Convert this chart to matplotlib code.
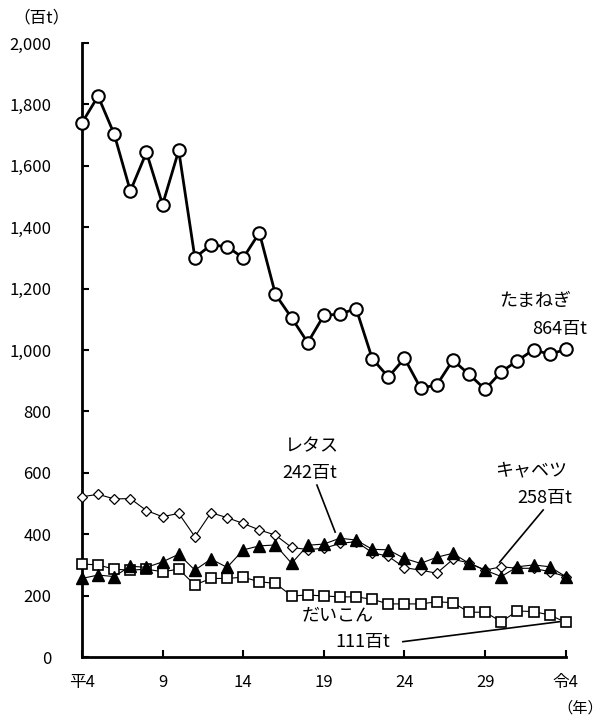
"""Vegetable shipment trend chart (平4 - 令4), unit 百t."""
import matplotlib
matplotlib.use("Agg")
import matplotlib.pyplot as plt
import numpy as np

plt.rcParams["font.family"] = ["Noto Sans CJK JP", "DejaVu Sans"]

# 平4 (1992) ... 令4 (2022): 31 years
years = list(range(31))
tick_pos = [0, 5, 10, 15, 20, 25, 30]
tick_labels = ["平4", "9", "14", "19", "24", "29", "令4"]

tamanegi = [1740, 1827, 1703, 1518, 1644, 1474, 1650, 1301, 1342, 1337,
            1300, 1382, 1181, 1105, 1024, 1113, 1117, 1135, 972, 912,
            973, 876, 886, 967, 921, 872, 929, 965, 1001, 986, 1002]
lettuce = [522, 530, 515, 516, 477, 457, 468, 392, 470, 454,
           435, 414, 397, 357, 350, 354, 370, 376, 340, 328,
           291, 283, 273, 318, 307, 283, 294, 289, 289, 278, 262]
cabbage = [256, 267, 262, 296, 292, 310, 335, 283, 319, 292,
           349, 362, 365, 305, 364, 368, 387, 381, 351, 349,
           321, 305, 325, 338, 305, 283, 262, 294, 300, 294, 262]
daikon = [303, 300, 286, 283, 286, 278, 286, 235, 256, 256,
          260, 245, 240, 199, 202, 199, 196, 196, 188, 173,
          173, 173, 180, 177, 146, 146, 115, 150, 148, 137, 113]

fig = plt.figure(figsize=(6.09, 7.22), dpi=100)
ax = fig.add_axes([0.1346, 0.090, 0.929 - 0.1346, 0.9404 - 0.090])

ax.plot(years, lettuce, color="black", lw=0.8, marker="D", ms=5.5,
        mfc="white", mec="black", mew=0.9, clip_on=False, zorder=3)
ax.plot(years, daikon, color="black", lw=0.8, marker="s", ms=7,
        mfc="white", mec="black", mew=1.2, clip_on=False, zorder=3)
ax.plot(years, cabbage, color="black", lw=0.8, marker="^", ms=8.5,
        mfc="black", mec="black", clip_on=False, zorder=4)
ax.plot(years, tamanegi, color="black", lw=2, marker="o", ms=9,
        mfc="white", mec="black", mew=1.5, clip_on=False, zorder=5)

ax.set_xlim(0, 30)
ax.set_ylim(0, 2000)
ax.set_yticks(np.arange(0, 2001, 200))
ax.set_yticklabels([f"{v:,}" for v in range(0, 2001, 200)])
ax.set_xticks(tick_pos)
ax.set_xticklabels(tick_labels)
ax.tick_params(axis="both", direction="in", length=5, width=1.5,
               labelsize=12, colors="black")
ax.tick_params(axis="y", pad=22)
ax.tick_params(axis="x", pad=12)
for side in ("top", "right"):
    ax.spines[side].set_visible(False)
for side in ("left", "bottom"):
    ax.spines[side].set_linewidth(2)

fig.text(0.068, 0.975, "（百t）", fontsize=12, ha="center", va="center")
fig.text(0.990, 0.020, "（年）", fontsize=11, ha="right", va="center")

# series labels
lab = dict(fontsize=13, ha="left", va="center")
ax.text(25.9, 1160, "たまねぎ", **lab)
ax.text(27.9, 1070, "864百t", **lab)
ax.text(12.6, 687, "レタス", **lab)
ax.text(12.4, 600, "242百t", **lab)
ax.text(25.6, 609, "キャベツ", **lab)
ax.text(27.0, 518, "258百t", **lab)
ax.text(13.6, 137, "だいこん", **lab)
ax.text(15.7, 49, "111百t", **lab)

ax.plot([14.57, 15.7], [560, 407], color="black", lw=1.2)
ax.plot([28.6, 25.9], [479, 309], color="black", lw=1.2)
ax.plot([19.9, 29.6], [50, 115], color="black", lw=1.2)

fig.savefig("out.png", dpi=100)
